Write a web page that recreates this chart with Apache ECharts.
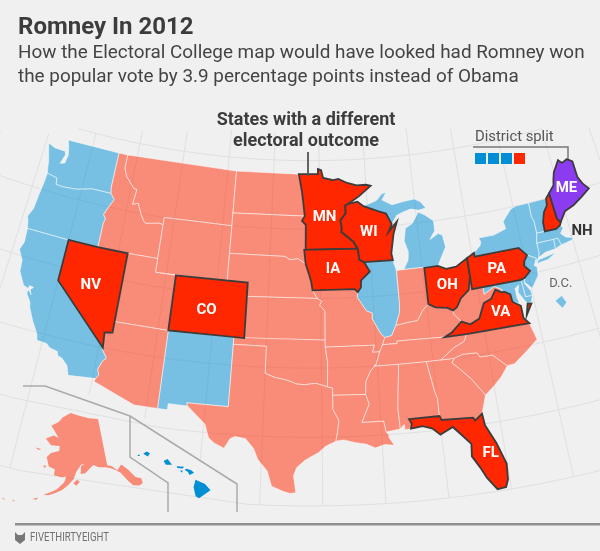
<!DOCTYPE html>
<html>

<head>
    <title>Romney In 2012</title>
    <meta charset="utf-8">
    <script src="https://cdn.jsdelivr.net/npm/echarts@6/dist/echarts.min.js"></script>
    <style>
        html, body { margin: 0; padding: 0; background: #f0f0f0; }
        #main { width: 600px; height: 551px; }
    </style>
</head>

<body>
    <div id="main"></div>
</body>
<script>
    // outcome of each state
    var obamaStates = ['WA', 'OR', 'CA', 'NM', 'IL', 'MI', 'NY', 'NJ', 'DE', 'MD', 'CT', 'RI', 'MA', 'VT', 'DC'];
    var romneyStates = ['ID', 'MT', 'WY', 'UT', 'AZ', 'ND', 'SD', 'NE', 'KS', 'OK', 'TX', 'MO', 'AR', 'LA', 'IN', 'KY', 'TN', 'MS', 'AL', 'GA', 'SC', 'NC', 'WV', 'AK'];
    var flippedStates = ['NV', 'CO', 'MN', 'IA', 'WI', 'OH', 'PA', 'VA', 'FL', 'NH'];
    var splitStates = ['ME'];
    var hawaiiStates = ['HI'];
    var districtSplit = ['obama', 'obama', 'obama', 'romney'];

    // state outlines, lon/lat rings
    var shapes = {
        WA: [[[-124.7,48.38],[-123.9,48.17],[-123.1,48.15],[-122.75,48.15],[-122.6,47.9],[-122.9,47.2],[-122.45,47.3],[-122.3,47.9],[-122.5,48.5],[-122.76,49],[-117.03,49],[-117.04,46.42],[-116.92,45.99],[-118.98,46],[-119.3,45.93],[-120.5,45.7],[-121.2,45.65],[-122,45.6],[-122.7,45.65],[-122.8,46.1],[-123.2,46.15],[-123.9,46.25],[-124.05,46.7],[-124.1,47],[-124.4,47.7]]],
        OR: [[[-123.9,46.25],[-123.2,46.15],[-122.8,46.1],[-122.7,45.65],[-122,45.6],[-121.2,45.65],[-120.5,45.7],[-119.3,45.93],[-118.98,46],[-116.92,45.99],[-116.46,45.6],[-116.85,45],[-117.2,44.4],[-116.9,44.1],[-117.03,43.8],[-117.03,42],[-120,42],[-124.2,42],[-124.4,42.6],[-124.55,42.85],[-124.2,43.5],[-124.1,44.5],[-123.95,45.5]]],
        CA: [[[-124.2,42],[-120,42],[-120,39],[-114.63,35],[-114.57,34.8],[-114.14,34.3],[-114.43,34.05],[-114.7,33.4],[-114.52,33.03],[-114.72,32.72],[-117.12,32.53],[-117.25,32.85],[-117.4,33.2],[-118,33.65],[-118.4,33.75],[-118.5,34.03],[-119.2,34.15],[-119.6,34.4],[-120.5,34.45],[-120.65,34.9],[-121.3,35.7],[-121.9,36.6],[-122,36.95],[-122.5,37.5],[-122.5,37.75],[-122.35,37.75],[-122.1,37.5],[-122.3,37.85],[-122.05,38.05],[-122.45,38.1],[-122.5,37.88],[-123,38],[-123.7,38.9],[-123.8,39.7],[-124.35,40.4],[-124.1,41]]],
        NV: [[[-120,42],[-117.03,42],[-114.04,42],[-114.04,36.2],[-114.75,36.1],[-114.63,35],[-120,39]]],
        ID: [[[-117.03,49],[-116.05,49],[-116.05,48],[-115.7,47.45],[-114.7,46.7],[-114.35,46.65],[-114.5,45.55],[-113.95,45.7],[-113.45,44.95],[-113,44.45],[-112.8,44.37],[-111.5,44.55],[-111.05,44.48],[-111.05,42],[-114.04,42],[-117.03,42],[-117.03,43.8],[-116.9,44.1],[-117.2,44.4],[-116.85,45],[-116.46,45.6],[-116.92,45.99],[-117.04,46.42]]],
        MT: [[[-116.05,49],[-104.05,49],[-104.05,45],[-111.05,45],[-111.05,44.48],[-111.5,44.55],[-112.8,44.37],[-113,44.45],[-113.45,44.95],[-113.95,45.7],[-114.5,45.55],[-114.35,46.65],[-114.7,46.7],[-115.7,47.45],[-116.05,48]]],
        WY: [[[-111.05,45],[-104.05,45],[-104.05,41],[-111.05,41]]],
        UT: [[[-114.04,42],[-111.05,42],[-111.05,41],[-109.05,41],[-109.05,37],[-114.04,37]]],
        CO: [[[-109.05,41],[-102.05,41],[-102.05,37],[-109.05,37]]],
        AZ: [[[-114.04,37],[-109.05,37],[-109.05,31.33],[-111.07,31.33],[-114.81,32.49],[-114.72,32.72],[-114.52,33.03],[-114.7,33.4],[-114.43,34.05],[-114.14,34.3],[-114.57,34.8],[-114.63,35],[-114.75,36.1],[-114.04,36.2]]],
        NM: [[[-109.05,37],[-103,37],[-103.04,32],[-106.62,32],[-106.53,31.78],[-108.2,31.78],[-108.2,31.33],[-109.05,31.33]]],
        ND: [[[-104.05,49],[-97.23,49],[-96.85,47.6],[-96.56,45.94],[-104.05,45.94]]],
        SD: [[[-104.05,45.94],[-96.56,45.94],[-96.85,45.6],[-96.45,45.3],[-96.45,43.5],[-96.6,43.5],[-96.45,42.49],[-97.2,42.85],[-98,42.77],[-98.5,43],[-104.05,43]]],
        NE: [[[-104.05,43],[-98.5,43],[-98,42.77],[-97.2,42.85],[-96.45,42.49],[-96.1,41.7],[-95.9,41.2],[-95.77,40.58],[-95.31,40],[-102.05,40],[-102.05,41],[-104.05,41]]],
        KS: [[[-102.05,40],[-95.31,40],[-94.9,39.8],[-95.1,39.5],[-94.6,39.1],[-94.62,37],[-102.05,37]]],
        OK: [[[-103,37],[-94.62,37],[-94.62,36.5],[-94.43,35.4],[-94.48,33.64],[-95.5,33.9],[-96.5,33.8],[-97.2,33.85],[-98,34.1],[-99.2,34.3],[-100,34.56],[-100,36.5],[-103,36.5]]],
        TX: [[[-106.62,32],[-103.04,32],[-103,36.5],[-100,36.5],[-100,34.56],[-99.2,34.3],[-98,34.1],[-97.2,33.85],[-96.5,33.8],[-95.5,33.9],[-94.48,33.64],[-94.04,33.55],[-94.04,33.02],[-94.04,32],[-93.55,31.2],[-93.7,30.3],[-93.85,29.7],[-94.7,29.35],[-95.3,28.9],[-96.4,28.35],[-97.1,27.8],[-97.35,27.2],[-97.15,25.96],[-97.6,25.9],[-98.2,26.05],[-99.1,26.4],[-99.5,27.5],[-100.3,28.3],[-100.7,29.1],[-101.4,29.77],[-102.3,29.88],[-102.7,29.7],[-103.15,28.97],[-104,29.3],[-104.5,29.65],[-104.9,30.6],[-106,31.4],[-106.53,31.78]]],
        MN: [[[-97.23,49],[-95.15,49],[-95.15,49.38],[-94.8,49.3],[-94.6,48.72],[-93.5,48.55],[-92.95,48.62],[-92,48.3],[-91,48.1],[-90,48.1],[-89.5,48],[-90.8,47.3],[-92.05,46.75],[-92.3,46.66],[-92.29,46.1],[-92.85,45.6],[-92.75,45],[-92.8,44.75],[-92.3,44.45],[-91.6,44],[-91.22,43.5],[-96.45,43.5],[-96.45,45.3],[-96.85,45.6],[-96.56,45.94],[-96.85,47.6]]],
        IA: [[[-96.6,43.5],[-91.22,43.5],[-91.1,42.7],[-90.65,42.5],[-90.15,41.8],[-91.05,41.2],[-91.1,40.7],[-91.42,40.38],[-91.7,40.6],[-95.77,40.58],[-95.9,41.2],[-96.1,41.7],[-96.45,42.49]]],
        MO: [[[-95.77,40.58],[-91.7,40.6],[-91.42,40.38],[-91.5,40],[-90.7,39],[-90.15,38.8],[-90.2,38.4],[-89.5,37.3],[-89.15,37],[-89.4,36.5],[-89.7,36],[-90.37,36],[-90.15,36.5],[-94.62,36.5],[-94.62,37],[-94.6,39.1],[-95.1,39.5],[-94.9,39.8],[-95.31,40]]],
        AR: [[[-94.62,36.5],[-90.15,36.5],[-90.37,36],[-89.7,36],[-90.1,35.1],[-90.6,34.7],[-91.1,33.9],[-91.17,33],[-94.04,33.02],[-94.04,33.55],[-94.48,33.64],[-94.43,35.4]]],
        LA: [[[-94.04,33.02],[-91.17,33],[-90.9,32.3],[-91.6,31],[-89.75,31],[-89.6,30.2],[-89.4,30],[-89.4,29.8],[-89,29.2],[-89.8,29.3],[-90.6,29.1],[-91.3,29.4],[-92.2,29.55],[-93.2,29.78],[-93.85,29.7],[-93.7,30.3],[-93.55,31.2],[-94.04,32]]],
        WI: [[[-92.05,46.75],[-91,46.9],[-90.4,46.55],[-89,46.15],[-88.1,45.9],[-87.6,45.1],[-88,44.55],[-87.05,45.25],[-87.5,44.4],[-87.9,43],[-87.8,42.5],[-90.65,42.5],[-91.1,42.7],[-91.22,43.5],[-91.6,44],[-92.3,44.45],[-92.8,44.75],[-92.75,45],[-92.85,45.6],[-92.29,46.1],[-92.3,46.66]]],
        IL: [[[-90.65,42.5],[-87.8,42.5],[-87.55,41.75],[-87.53,39.35],[-87.6,38.7],[-88.05,37.8],[-88.5,37.1],[-89.15,37],[-89.5,37.3],[-90.2,38.4],[-90.15,38.8],[-90.7,39],[-91.5,40],[-91.42,40.38],[-91.1,40.7],[-91.05,41.2],[-90.15,41.8]]],
        IN: [[[-87.53,41.72],[-87.2,41.75],[-84.8,41.76],[-84.82,39.1],[-85.4,38.7],[-86,38],[-86.8,37.95],[-88.05,37.8],[-87.6,38.7],[-87.53,39.35]]],
        MI: [[[-86.82,41.76],[-84.8,41.76],[-83.45,41.73],[-83.1,42.2],[-82.45,43],[-82.6,43.9],[-83,44.05],[-83.9,43.7],[-83.3,44.3],[-83.3,45],[-84.1,45.5],[-84.75,45.78],[-85.5,45],[-86.25,44.7],[-86.5,43.8],[-86.2,43],[-86.3,42.4]],
             [[-90.4,46.55],[-89,46.9],[-88.4,47.35],[-87.9,47.47],[-88.4,46.9],[-87.4,46.5],[-86.2,46.65],[-85,46.75],[-84.4,46.5],[-83.9,46],[-84.7,45.9],[-85.5,46.05],[-86.3,45.9],[-87,45.7],[-87.6,45.1],[-88.1,45.9],[-89,46.15]]],
        OH: [[[-84.8,41.72],[-83.45,41.73],[-82.7,41.45],[-81.7,41.5],[-80.52,41.98],[-80.52,40.64],[-80.65,40.3],[-80.85,39.7],[-81.7,39.2],[-82.2,38.6],[-82.6,38.42],[-83.1,38.65],[-84.2,38.8],[-84.82,39.1]]],
        KY: [[[-89.4,36.5],[-88.07,36.5],[-88.07,36.68],[-83.68,36.6],[-83,36.85],[-81.97,37.54],[-82.6,38.17],[-82.6,38.42],[-83.1,38.65],[-84.2,38.8],[-84.82,39.1],[-85.4,38.7],[-86,38],[-86.8,37.95],[-88.05,37.8],[-88.5,37.1],[-89.15,37]]],
        TN: [[[-89.7,36],[-89.4,36.5],[-88.07,36.5],[-88.07,36.68],[-83.68,36.6],[-81.68,36.59],[-82,36.1],[-83,35.75],[-84.3,35],[-85.6,35],[-88.2,35],[-90.3,35],[-90.1,35.1]]],
        MS: [[[-90.3,35],[-88.2,35],[-88.1,34.9],[-88.47,31.9],[-88.4,30.35],[-89.6,30.2],[-89.75,31],[-91.6,31],[-90.9,32.3],[-91.17,33],[-91.1,33.9],[-90.6,34.7],[-90.1,35.1]]],
        AL: [[[-88.2,35],[-85.6,35],[-85.18,32.87],[-85,32.3],[-85,31],[-87.6,31],[-87.4,30.65],[-87.5,30.3],[-88,30.25],[-88.05,30.65],[-88.4,30.35],[-88.47,31.9],[-88.1,34.9]]],
        GA: [[[-85.6,35],[-84.3,35],[-83.1,35],[-83.35,34.7],[-82.75,34.2],[-81.9,33.4],[-81.2,32.5],[-80.85,32.05],[-81.4,30.75],[-82.05,30.35],[-82.2,30.57],[-84.86,30.7],[-85,31],[-85,32.3],[-85.18,32.87]]],
        FL: [[[-87.6,31],[-85,31],[-84.86,30.7],[-82.2,30.57],[-82.05,30.35],[-81.4,30.75],[-81.3,29.9],[-80.6,28.5],[-80.05,26.9],[-80.15,25.75],[-80.4,25.2],[-81.1,25.15],[-81.8,26.1],[-82.2,26.9],[-82.75,27.8],[-82.65,28.7],[-83.4,29.5],[-84,30.1],[-85.1,29.65],[-85.7,30.15],[-86.5,30.4],[-87.5,30.3],[-87.4,30.65]]],
        SC: [[[-83.1,35],[-82.3,35.2],[-81,35.15],[-80.8,34.82],[-79.67,34.8],[-78.55,33.86],[-79.2,33.2],[-80,32.6],[-80.85,32.05],[-81.2,32.5],[-81.9,33.4],[-82.75,34.2],[-83.35,34.7]]],
        NC: [[[-84.3,35],[-83,35.75],[-82,36.1],[-81.68,36.59],[-75.87,36.55],[-75.5,35.3],[-76.5,34.7],[-77.9,33.9],[-78.55,33.86],[-79.67,34.8],[-80.8,34.82],[-81,35.15],[-82.3,35.2],[-83.1,35]]],
        VA: [[[-83.68,36.6],[-81.68,36.59],[-75.87,36.55],[-76.3,37],[-76.3,37.9],[-77,38.3],[-77.05,38.85],[-77.5,39.1],[-77.83,39.13],[-78.35,39.4],[-78.9,38.8],[-79.65,38.6],[-80.3,37.55],[-81.2,37.25],[-81.97,37.54],[-83,36.85]],
             [[-75.95,37.15],[-75.3,37.9],[-75.65,37.95]]],
        WV: [[[-82.6,38.42],[-82.2,38.6],[-81.7,39.2],[-80.85,39.7],[-80.65,40.3],[-80.52,40.64],[-80.52,39.72],[-79.48,39.72],[-79.48,39.2],[-78.4,39.62],[-77.75,39.32],[-77.83,39.13],[-78.35,39.4],[-78.9,38.8],[-79.65,38.6],[-80.3,37.55],[-81.2,37.25],[-81.97,37.54],[-82.6,38.17]]],
        PA: [[[-80.52,41.98],[-79.76,42.27],[-79.76,42],[-75.35,42],[-74.7,41.36],[-75.1,40.97],[-75.2,40.65],[-74.75,40.2],[-75.4,39.8],[-75.79,39.72],[-80.52,39.72],[-80.52,40.64]]],
        NY: [[[-79.76,42.27],[-79.05,42.7],[-78.9,42.95],[-79.05,43.27],[-77.5,43.27],[-76.2,43.55],[-76.3,44.1],[-75.3,44.85],[-74.7,45],[-73.35,45],[-73.4,44],[-73.25,43.6],[-73.27,42.75],[-73.5,42.05],[-73.5,41.3],[-73.65,41],[-74,40.7],[-73.9,41],[-74.7,41.36],[-75.35,42],[-79.76,42]],
             [[-74,40.6],[-73.7,40.85],[-72.6,40.98],[-71.9,41.07],[-72.8,40.7]]],
        NJ: [[[-74.7,41.36],[-73.9,41],[-74.25,40.5],[-74,40.4],[-74.1,39.75],[-74.9,38.95],[-75.5,39.5],[-75.4,39.8],[-74.75,40.2],[-75.2,40.65],[-75.1,40.97]]],
        DE: [[[-75.79,39.72],[-75.4,39.8],[-75.55,39.45],[-75.1,38.8],[-75.05,38.45],[-75.7,38.46]]],
        MD: [[[-79.48,39.72],[-75.79,39.72],[-75.7,38.46],[-75.05,38.45],[-75.25,38.03],[-75.65,37.95],[-75.9,38.3],[-76.3,38.9],[-76.1,39.4],[-76.5,39.2],[-76.5,38.5],[-76.35,38.1],[-77,38.3],[-77.05,38.85],[-77.5,39.1],[-77.83,39.13],[-77.75,39.32],[-78.4,39.62],[-79.48,39.2]]],
        CT: [[[-73.5,42.05],[-71.8,42.02],[-71.85,41.32],[-72.9,41.25],[-73.65,41],[-73.5,41.3]]],
        RI: [[[-71.8,42.02],[-71.38,42.02],[-71.2,41.5],[-71.85,41.32]]],
        MA: [[[-73.27,42.75],[-72.45,42.73],[-71.3,42.7],[-70.85,42.87],[-70.6,42.65],[-71,42.3],[-70.6,41.95],[-70,41.8],[-70.2,42.08],[-69.95,41.95],[-70,41.65],[-70.65,41.55],[-71.2,41.5],[-71.38,42.02],[-71.8,42.02],[-73.5,42.05]]],
        VT: [[[-73.35,45],[-71.5,45.01],[-71.6,44.5],[-72.05,44.1],[-72.4,43.4],[-72.45,42.73],[-73.27,42.75],[-73.25,43.6],[-73.4,44]]],
        NH: [[[-71.5,45.01],[-71.08,45.3],[-70.98,43.4],[-70.7,43.07],[-70.85,42.87],[-71.3,42.7],[-72.45,42.73],[-72.4,43.4],[-72.05,44.1],[-71.6,44.5]]],
        ME: [[[-71.08,45.3],[-70.4,45.8],[-70.25,46.2],[-70,46.7],[-69.23,47.46],[-68.9,47.18],[-68.3,47.35],[-67.8,47.07],[-67.78,45.9],[-67.45,45.3],[-67,44.85],[-68,44.4],[-69,44],[-70,43.75],[-70.7,43.07],[-70.98,43.4]]],
        // D.C. is drawn as an enlarged inset out in the Atlantic
        DC: [[[-73.1,37.7],[-72.4,37.95],[-72.1,37.4],[-72.6,37.05]]],
        AK: [[[-141,69.65],[-141,60.3],[-139.5,60],[-137.5,58.9],[-136.5,59.4],[-135.5,59.8],[-133.5,58.4],[-131.8,56.6],[-130.02,56],[-130.1,55],[-131.5,54.8],[-133.5,55.2],[-134.7,56.3],[-136.5,58.2],[-138,59],[-139.8,59.6],[-142,60],[-144.5,60.2],[-146.5,60.8],[-148.5,60],[-150,59.3],[-151.8,59.2],[-151.5,60.7],[-150,61.2],[-151.5,61],[-153.5,59.6],[-154.5,58.2],[-156.5,57],[-158.5,56],[-161,55.2],[-163,54.7],[-164.8,54.6],[-163,55.2],[-160.5,56],[-158,57.5],[-157.3,58.7],[-159,58.5],[-162,58.7],[-162,59.9],[-164.5,60.3],[-165.5,61.5],[-166,62],[-164.5,63],[-161,63.6],[-161,64.6],[-165,64.5],[-168,65.6],[-164.5,66.5],[-162,66.1],[-163.8,67.1],[-166.5,68.3],[-163,69.3],[-161,70.3],[-156.6,71.3],[-152,70.8],[-146,70.1]],
             [[-154.6,57.4],[-153.2,58.1],[-152.2,57.7],[-153.5,56.9]],
             [[-167,60.2],[-165.6,60.4],[-165.8,59.9]],
             [[-171.7,63.4],[-169,63.4],[-170,63.1]],
             [[-168.2,53.4],[-166.4,53.9],[-166.8,53.4]],
             [[-174.5,52.2],[-173.5,52.2],[-174,52]],
             [[-178,51.9],[-176.5,51.9],[-177,51.7]],
             [[-135.8,58],[-135,58.2],[-134.8,57.3],[-135.5,57.2]],
             [[-134,56.9],[-133.1,56.8],[-132.8,55.4],[-133.7,55.9]]],
        HI: [[[-155.9,20.25],[-155.2,19.95],[-154.8,19.5],[-155.65,18.95],[-155.9,19.1],[-156.05,19.75]],
             [[-156.7,20.95],[-156.6,21.03],[-156.25,20.93],[-156,20.75],[-156.35,20.58],[-156.45,20.78]],
             [[-157.3,21.2],[-156.75,21.17],[-156.85,21.05],[-157.25,21.08]],
             [[-157.05,20.9],[-156.85,20.9],[-156.9,20.75]],
             [[-158.28,21.57],[-157.98,21.71],[-157.65,21.3],[-158.1,21.3]],
             [[-159.8,22.07],[-159.55,22.23],[-159.3,22.1],[-159.45,21.88]],
             [[-160.25,21.9],[-160.1,22.02],[-160.05,21.9]]]
    };

    // label anchor of the states that carry a label, lon/lat
    var labelSpots = {
        NV: [-116.9, 39.2], CO: [-105.75, 38.8], MN: [-94.5, 45.85], WI: [-90, 44.65], IA: [-93.75, 42.1],
        OH: [-82.8, 40.3], PA: [-77.85, 40.8], VA: [-78.25, 37.75], FL: [-81.2, 27.85], ME: [-69.2, 45.3],
        NH: [-68.9, 42.05], DC: [-72.2, 38.8]
    };

    var COLOR_BLUE = 'rgba(0,143,213,.5)';
    var COLOR_SALMON = 'rgba(255,39,0,.5)';
    var COLOR_RED = '#ff2700';
    var COLOR_PURPLE = '#8c3cf0';
    var COLOR_DARK = '#3c3c3c';

    // conic projection pinned so that one lon/lat lands on one pixel
    function albers(lon0, lat1, lat2, scale, anchor, at) {
        var r = Math.PI / 180;
        var n = (Math.sin(lat1 * r) + Math.sin(lat2 * r)) / 2;
        var c = Math.cos(lat1 * r) * Math.cos(lat1 * r) + 2 * n * Math.sin(lat1 * r);
        function raw(p) {
            var rho = Math.sqrt(c - 2 * n * Math.sin(p[1] * r)) / n;
            var th = n * (p[0] - lon0) * r;
            return [rho * Math.sin(th) * scale, rho * Math.cos(th) * scale];
        }
        var a = raw(anchor);
        var dx = at[0] - a[0], dy = at[1] - a[1];
        return {
            project: function (p) {
                var q = raw(p);
                return [q[0] + dx, q[1] + dy];
            },
            invert: function (q) {
                var x = (q[0] - dx) / scale, y = (q[1] - dy) / scale;
                var rho = Math.sqrt(x * x + y * y) * n;
                return [lon0 + Math.atan2(x, y) / n / r, Math.asin((c - rho * rho) / (2 * n)) / r];
            }
        };
    }
    var lower48 = albers(-96, 29.5, 45.5, 790, [-67, 44.8], [589, 189]);
    var alaska = albers(-154, 55, 65, 290, [-141, 69.65], [98, 419]);
    var hawaii = albers(-157, 8, 18, 820, [-155.5, 19.6], [201, 489]);
    var projection = {
        project: function (p) {
            if (p[1] > 51 && p[0] < -129.95) return alaska.project(p);
            if (p[1] < 25 && p[0] < -150) return hawaii.project(p);
            return lower48.project(p);
        },
        unproject: function (q) {
            return lower48.invert(q);
        }
    };

    var stateOrder = obamaStates.concat(romneyStates, hawaiiStates, splitStates, flippedStates);
    var features = stateOrder.map(function (id) {
        return {
            type: 'Feature',
            properties: { name: id, cp: labelSpots[id] },
            geometry: { type: 'MultiPolygon', coordinates: shapes[id].map(function (ring) { return [ring]; }) }
        };
    });
    echarts.registerMap('usa', { type: 'FeatureCollection', features: features });

    // fit the layout box to the projected extent so projected pixels stay page pixels
    var minX = 1e9, minY = 1e9, maxX = -1e9, maxY = -1e9;
    stateOrder.forEach(function (id) {
        shapes[id].forEach(function (ring) {
            ring.forEach(function (p) {
                var q = projection.project(p);
                minX = Math.min(minX, q[0]); maxX = Math.max(maxX, q[0]);
                minY = Math.min(minY, q[1]); maxY = Math.max(maxY, q[1]);
            });
        });
    });
    var box = { left: minX, top: minY, width: maxX - minX, height: maxY - minY };

    // the inset rules, graticule stops at them
    var insetRule = [[23, 386], [45, 386], [130, 416], [237, 484], [237, 512]];
    var hawaiiRule = [[130, 416], [130, 457], [168, 483], [168, 512]];
    function ruleY(x) {
        for (var i = 0; i < insetRule.length - 2; i++) {
            if (x >= insetRule[i][0] && x <= insetRule[i + 1][0]) {
                return insetRule[i][1] + (x - insetRule[i][0]) / (insetRule[i + 1][0] - insetRule[i][0]) * (insetRule[i + 1][1] - insetRule[i][1]);
            }
        }
        return 1e9;
    }
    function keepLine(pts) {
        return pts.filter(function (p) {
            var q = lower48.project(p);
            return q[1] >= 128 && q[1] < ruleY(q[0]) - 1;
        });
    }
    var graticule = [];
    var lon, lat, pts;
    for (lon = -130; lon <= -60; lon += 5) {
        pts = [];
        for (lat = 25; lat <= (lon == -130 ? 51 : 56); lat += 0.5) pts.push([lon, lat]);
        graticule.push({ coords: keepLine(pts) });
    }
    for (lat = 25; lat <= 50; lat += 5) {
        pts = [];
        for (lon = -129; lon <= -55; lon += 1) pts.push([lon, lat]);
        graticule.push({ coords: keepLine(pts) });
    }
    graticule = graticule.filter(function (g) { return g.coords.length > 1; });

    function stateItem(id) {
        var flipped = flippedStates.indexOf(id) >= 0, split = splitStates.indexOf(id) >= 0;
        var item = { name: id, value: 1 };
        if (flipped || split) {
            item.itemStyle = { areaColor: flipped ? COLOR_RED : COLOR_PURPLE, borderColor: COLOR_DARK, borderWidth: 1.8 };
        } else if (id == 'HI') {
            item.itemStyle = { areaColor: '#008fd5', borderWidth: 0 };
        } else if (id == 'AK') {
            item.itemStyle = { areaColor: COLOR_SALMON, borderWidth: 0 };
        } else {
            item.itemStyle = { areaColor: romneyStates.indexOf(id) >= 0 ? COLOR_SALMON : COLOR_BLUE };
        }
        if (labelSpots[id]) {
            item.label = { show: true, formatter: id == 'DC' ? 'D.C.' : id, color: '#fff', fontFamily: 'Roboto', fontSize: 15, fontWeight: 'bold' };
            if (id == 'NH') item.label.color = '#333';
            if (id == 'DC') { item.label.color = '#666'; item.label.fontWeight = 'normal'; item.label.fontSize = 13; }
        }
        return item;
    }

    var legendSquares = districtSplit.map(function (d, i) {
        return {
            type: 'rect', z: 10, shape: { x: 475 + i * 13, y: 153, width: 11, height: 11 },
            style: { fill: d == 'obama' ? '#008fd5' : COLOR_RED }
        };
    });
    var TEXT_FONT = 'Roboto';

    var myChart = echarts.init(document.getElementById('main'));
    myChart.setOption({
        backgroundColor: '#f0f0f0',
        animation: false,
        title: {
            left: 13, top: 11,
            text: 'Romney In 2012',
            textStyle: { fontFamily: TEXT_FONT, fontSize: 24, fontWeight: 'bold', color: '#3c3c3c' },
            subtext: 'How the Electoral College map would have looked had Romney won\nthe popular vote by 3.9 percentage points instead of Obama',
            subtextStyle: { fontFamily: TEXT_FONT, fontSize: 18.9, color: '#444', lineHeight: 23.5 },
            itemGap: 2
        },
        geo: {
            map: 'usa', projection: projection, left: box.left, top: box.top, width: box.width, height: box.height,
            silent: true, z: 0,
            itemStyle: { areaColor: 'transparent', borderWidth: 0 }
        },
        series: [{
            type: 'lines', coordinateSystem: 'geo', geoIndex: 0, polyline: true, silent: true, z: 1,
            lineStyle: { color: '#e0e0e0', width: 1, opacity: 1 },
            data: graticule
        }, {
            type: 'map', map: 'usa', projection: projection, left: box.left, top: box.top, width: box.width, height: box.height,
            silent: true, z: 3, selectedMode: false,
            itemStyle: { borderColor: 'rgba(255,255,255,.65)', borderWidth: 0.8 },
            data: stateOrder.map(stateItem)
        }],
        graphic: [
            { type: 'text', z: 10, x: 306, y: 131, style: { text: 'States with a different\nelectoral outcome', fill: '#3c3c3c', font: 'bold 18px Roboto', lineHeight: 21, align: 'center', verticalAlign: 'middle' } },
            { type: 'line', z: 10, shape: { x1: 308, y1: 152, x2: 308, y2: 176 }, style: { stroke: '#555', lineWidth: 1.8 } },
            { type: 'text', z: 10, x: 475, y: 137, style: { text: 'District split', fill: '#555', font: '14.8px Roboto', verticalAlign: 'middle' } },
            { type: 'polyline', z: 10, shape: { points: [[473, 147], [568, 147], [568, 159]] }, style: { stroke: '#777', lineWidth: 1.5, fill: null } },
            { type: 'polyline', z: 10, shape: { points: insetRule }, style: { stroke: '#aaa', lineWidth: 1.5, fill: null } },
            { type: 'polyline', z: 10, shape: { points: hawaiiRule }, style: { stroke: '#aaa', lineWidth: 1.5, fill: null } },
            { type: 'rect', z: 10, shape: { x: 15, y: 523, width: 585, height: 2.5 }, style: { fill: '#909090' } },
            { type: 'polygon', z: 10, shape: { points: [[15, 532], [18, 535], [22, 535], [25, 532], [25, 540], [20, 544], [15, 540]] }, style: { fill: '#777' } },
            { type: 'text', z: 10, x: 30, y: 538, scaleX: 0.8, style: { text: 'FIVETHIRTYEIGHT', fill: '#707070', font: '12px Roboto', verticalAlign: 'middle' } }
        ].concat(legendSquares)
    });
</script>

</html>
